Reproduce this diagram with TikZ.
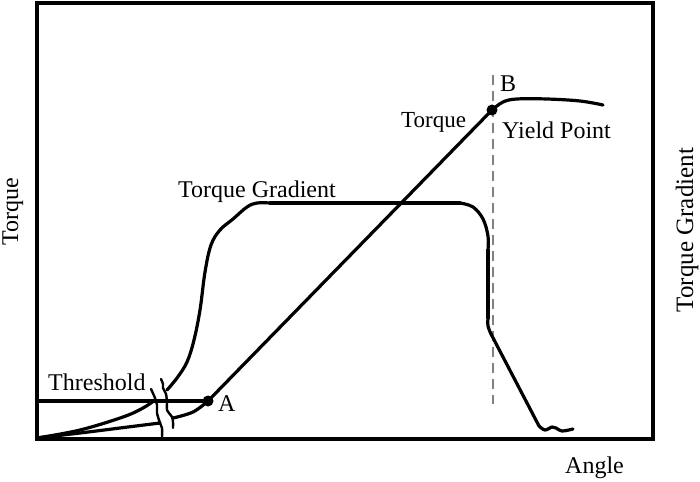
\documentclass[tikz,border=0pt]{standalone}
\usepackage{fontspec}
\setmainfont{Liberation Serif}
\begin{document}
\begin{tikzpicture}[x=1pt,y=-1pt,
  curve/.style={line width=3.2pt,line join=round,line cap=round},
  frame/.style={line width=3.4pt},
  brk/.style={line width=2.4pt,line join=round,line cap=round},
  lbl/.style={font=\fontsize{24}{24}\selectfont,inner sep=0pt,anchor=base west},
  axislbl/.style={inner sep=0pt,rotate=90,anchor=base},
  dot/.style={circle,fill=black,inner sep=0pt,minimum size=11pt}]
\useasboundingbox (0,0) rectangle (700,481);
% frame
\coordinate (tl) at (37,3);
\coordinate (br) at (653,439);
\draw[frame] (tl) rectangle (br);
% points
\coordinate (A) at (208,401);
\coordinate (B) at (492,110);
\coordinate (T0) at (37,401);
\coordinate (D1) at (493,75);
\coordinate (D2) at (493,404);
% dashed yield line
\draw[line width=1.4pt,gray,dash pattern=on 10pt off 6pt] (D1) -- (D2);
% threshold
\draw[curve] (T0) -- (A);
% torque curve
\draw[curve] plot[smooth,tension=0.6] coordinates {(37,438) (80,433) (128,427) (160,423)};
\draw[curve] plot[smooth,tension=0.6] coordinates {(173,418) (193,412) (A)};
\draw[curve] (A) -- (B);
\draw[curve] plot[smooth,tension=0.6] coordinates {(B) (503,102) (517,99) (547,99) (580,101) (603,105)};
% torque gradient curve
\draw[curve] plot[smooth,tension=0.6] coordinates {(37,438) (80,430) (123,417) (143,408) (155,400)};
\draw[curve] plot[smooth,tension=0.6] coordinates {(167,390) (177,378) (187,362) (194,340) (200,310) (205,272) (211,245) (220,230) (233,219) (247,207) (257,203) (270,203)};
\draw[curve] (270,203) -- (460,203);
\draw[curve] plot[smooth,tension=0.6] coordinates {(460,203) (473,207) (483,219) (488,236) (488,250)};
\draw[curve] (488,250) -- (488,318);
\draw[curve] plot[smooth,tension=0.6] coordinates {(488,318) (488,326) (491,334)};
\draw[curve] (491,334) -- (539,426);
\draw[curve] plot[smooth,tension=0.6] coordinates {(539,426) (545,430) (552,427) (556,428) (562,431) (573,429)};
% break marks
\draw[brk] plot[smooth,tension=0.5] coordinates {(151,389) (155,398) (157,405) (157,413) (160,423) (162,428) (162,437)};
\draw[brk] plot[smooth,tension=0.5] coordinates {(161,379) (163,384) (163,388) (166,394) (167,403) (167,410) (172,417) (173,422) (173,428)};
% dots
\node[dot] (dA) at (A) {};
\node[dot] (dB) at (B) {};
% labels
\node[lbl] (lThr) at (48,390) {Threshold};
\node[lbl] (lA) at (218,411) {A};
\node[lbl] (lB) at (500,92) {B};
\node[lbl] (lTG) at (178,197) {Torque Gradient};
\node[lbl,font=\fontsize{23}{23}\selectfont] (lT) at (401,128) {Torque};
\node[lbl] (lY) at (502,139) {Yield Point};
\node[lbl] (lAng) at (565,473) {Angle};
\node[axislbl,font=\fontsize{24}{24}\selectfont] (yl) at (18,212) {Torque};
\node[axislbl,font=\fontsize{25}{25}\selectfont] (yr) at (693,230) {Torque Gradient};
\end{tikzpicture}
\end{document}
